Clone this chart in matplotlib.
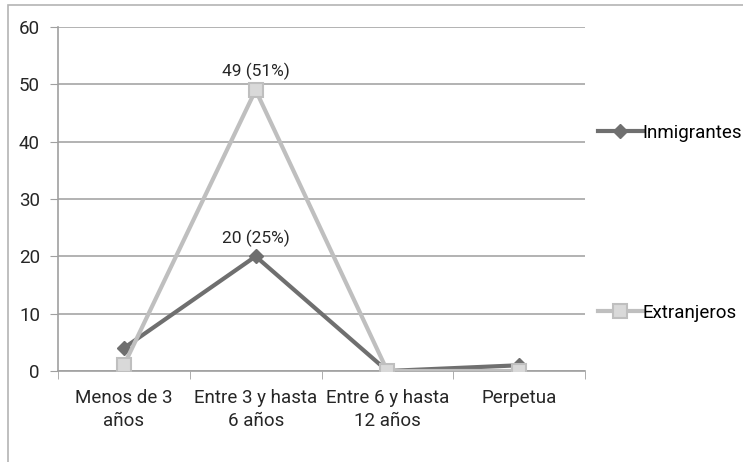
import matplotlib
matplotlib.use("Agg")
import matplotlib.pyplot as plt
from matplotlib.patches import Rectangle

categories = ["Menos de 3\naños", "Entre 3 y hasta\n6 años", "Entre 6 y hasta\n12 años", "Perpetua"]
inmigrantes = [4, 20, 0, 1]
extranjeros = [1, 49, 0, 0]
labels_inm = {1: "20 (25%)"}
labels_ext = {1: "49 (51%)"}
yticks = [0, 10, 20, 30, 40, 50, 60]

plt.rcParams['font.family'] = ['Roboto', 'DejaVu Sans']

fig = plt.figure(figsize=(7.43, 4.62), dpi=100)
ax = fig.add_axes([58 / 743, 91 / 462, 527 / 743, 344 / 462])

# outer chart border (cut off at right and bottom)
fig.patches.append(Rectangle((8 / 743, -0.1), 1.1, (457 / 462) + 0.1, transform=fig.transFigure,
                             fill=False, edgecolor="#b4b4b4", linewidth=1.2))

x = list(range(len(categories)))
dark = "#6f6f6f"
light = "#bfbfbf"
txt = "#262626"
ax.plot(x, inmigrantes, color=dark, linewidth=3, marker="D", markersize=7,
        markerfacecolor=dark, markeredgecolor=dark, label="Inmigrantes", zorder=3)
ax.plot(x, extranjeros, color=light, linewidth=3, marker="s", markersize=10.5,
        markerfacecolor="#d9d9d9", markeredgecolor=light, markeredgewidth=1.5,
        label="Extranjeros", zorder=4)

for i, t in labels_inm.items():
    ax.annotate(t, (i, inmigrantes[i]), xytext=(0, 7), textcoords="offset points",
                ha="center", va="bottom", fontsize=12.5, color=txt)
for i, t in labels_ext.items():
    ax.annotate(t, (i, extranjeros[i]), xytext=(0, 7), textcoords="offset points",
                ha="center", va="bottom", fontsize=12.5, color=txt)

ax.set_xlim(-0.5, len(categories) - 0.5)
ax.set_ylim(0, 60)
ax.set_yticks(yticks)
ax.set_yticklabels([str(v) for v in yticks], fontsize=13.5, color=txt)
ax.set_xticks(x)
ax.set_xticklabels(categories, fontsize=13.5, color=txt, linespacing=1.35)
ax.set_xticks([i - 0.5 for i in range(len(categories) + 1)], minor=True)
ax.tick_params(axis="x", which="major", length=0, pad=13)
ax.tick_params(axis="x", which="minor", length=6, color="#a0a0a0", direction="out")
ax.tick_params(axis="y", length=6, color="#a0a0a0", pad=7)
ax.yaxis.grid(True, color="#a6a6a6", linewidth=1.2)
ax.set_axisbelow(True)
for s in ["top", "right"]:
    ax.spines[s].set_visible(False)
for s in ["left", "bottom"]:
    ax.spines[s].set_color("#a0a0a0")
    ax.spines[s].set_linewidth(1.2)

# legend entries placed like the original (separate positions)
h, l = ax.get_legend_handles_labels()
fig.legend([h[0]], [l[0]], loc="center left", bbox_to_anchor=(590 / 743, 1 - 133 / 462),
           frameon=False, fontsize=13.5, handlelength=2.4, handletextpad=0.0, borderaxespad=0)
fig.legend([h[1]], [l[1]], loc="center left", bbox_to_anchor=(590 / 743, 1 - 313 / 462),
           frameon=False, fontsize=13.5, handlelength=2.4, handletextpad=0.0, borderaxespad=0)

fig.savefig("out.png", dpi=100)
